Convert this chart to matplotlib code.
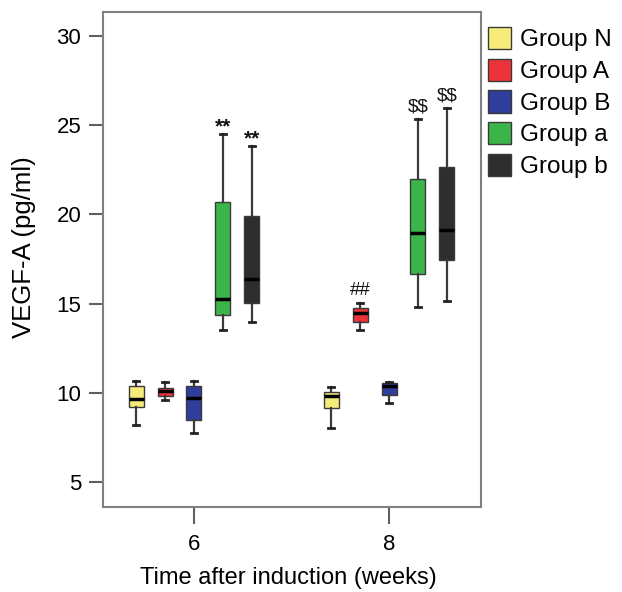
import matplotlib
matplotlib.use("Agg")
import matplotlib.pyplot as plt
from matplotlib.patches import Patch

plt.rcParams['font.family'] = ['Liberation Sans', 'DejaVu Sans']

weeks = ["6", "8"]
groups = ["Group N", "Group A", "Group B", "Group a", "Group b"]
colors = ["#F6EC7A", "#EC3339", "#2F3E9C", "#3BB54A", "#2E2E2E"]

# five-number summaries per group: [week 6, week 8]
whislo = [[8.18, 8.04], [9.58, 13.50], [7.73, 9.45], [13.52, 14.83], [13.97, 15.13]]
q1     = [[9.19, 9.17], [9.82, 13.97], [8.48, 9.88], [14.36, 16.66], [15.02, 17.43]]
med    = [[9.65, 9.80], [10.08, 14.49], [9.69, 10.38], [15.26, 18.96], [16.38, 19.11]]
q3     = [[10.38, 10.03], [10.29, 14.77], [10.36, 10.57], [20.68, 21.98], [19.91, 22.66]]
whishi = [[10.66, 10.33], [10.61, 15.02], [10.66, 10.60], [24.52, 25.33], [23.85, 25.96]]

# significance marks: (group index, week index, text)
marks = [(3, 0, "**"), (4, 0, "**"), (1, 1, "##"), (3, 1, "$$"), (4, 1, "$$")]

fig = plt.figure(figsize=(6.22, 5.92), dpi=100)
ax = fig.add_axes([0.1651, 0.1441, 0.6077, 0.8356])

spacing = 0.148
width = 0.077
for gi in range(len(groups)):
    stats = []
    for wi in range(len(weeks)):
        stats.append(dict(whislo=whislo[gi][wi], q1=q1[gi][wi], med=med[gi][wi],
                          q3=q3[gi][wi], whishi=whishi[gi][wi], fliers=[]))
    pos = [wi + (gi - 2) * spacing for wi in range(len(weeks))]
    ax.bxp(stats, positions=pos, widths=width, capwidths=0.03, patch_artist=True,
           showfliers=False, manage_ticks=False,
           boxprops=dict(facecolor=colors[gi], edgecolor="#3a3a3a", linewidth=1.0),
           whiskerprops=dict(color="#3a3a3a", linewidth=1.6),
           capprops=dict(color="#222222", linewidth=2.0),
           medianprops=dict(color="black", linewidth=2.5))

for gi, wi, txt in marks:
    x = wi + (gi - 2) * spacing
    if txt == "**":
        ax.annotate(txt, (x, whishi[gi][wi]), xytext=(0, -2), textcoords="offset points",
                    ha="center", va="bottom", fontsize=15, color="#111111",
                    fontweight="bold")
    else:
        ax.annotate(txt, (x, whishi[gi][wi]), xytext=(0, 3), textcoords="offset points",
                    ha="center", va="bottom", fontsize=13.5, color="#111111",
                    parse_math=False)

ax.set_xlim(-0.468, 1.47)
ax.set_ylim(3.62, 31.35)
ax.set_xticks(range(len(weeks)))
ax.set_xticklabels(weeks)
ax.set_yticks([5, 10, 15, 20, 25, 30])

for s in ax.spines.values():
    s.set_color("#808080")
    s.set_linewidth(1.5)
ax.tick_params(axis="y", length=10, width=1.5, color="#606060", labelsize=16, pad=5.5)
ax.tick_params(axis="x", length=12, width=1.5, color="#606060", labelsize=16, pad=8)

ax.set_xlabel("Time after induction (weeks)", fontsize=17, va="center")
ax.xaxis.set_label_coords(0.4915, -0.144)
ax.set_ylabel("VEGF-A (pg/ml)", fontsize=18.5, va="center")
ax.yaxis.set_label_coords(-0.207, 0.525)

handles = [Patch(facecolor=c, edgecolor="#3a3a3a", linewidth=1.0) for c in colors]
fig.legend(handles, groups, loc="upper left", bbox_to_anchor=(483 / 622, 1 - 22 / 592),
           frameon=False, fontsize=17.5, handlelength=0.95, handleheight=1.03,
           labelspacing=0.3, handletextpad=0.38, borderaxespad=0, borderpad=0.2)

fig.savefig("out.png", dpi=100)
